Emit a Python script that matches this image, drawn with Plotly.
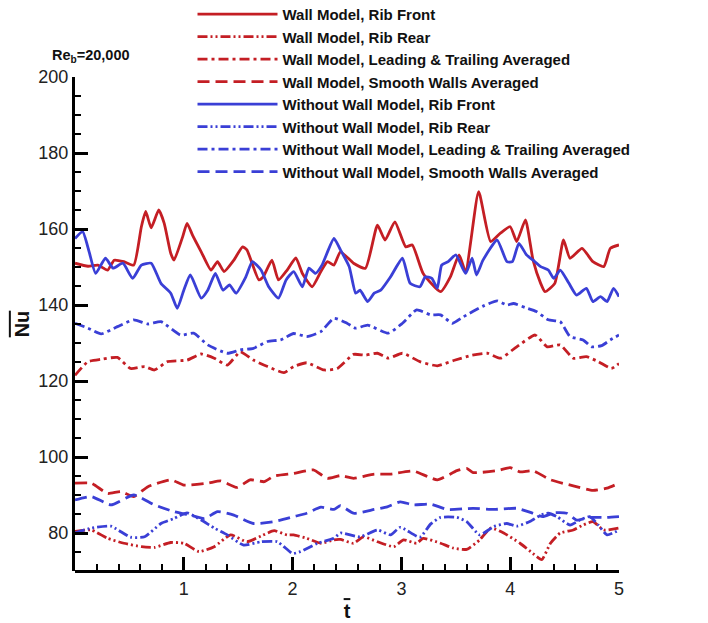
import plotly.graph_objects as go

# ---- data ----
wm_front_t = [0.00,0.12,0.21,0.30,0.36,0.45,0.54,0.61,0.65,0.70,0.77,0.82,0.88,0.91,0.99,1.03,1.08,1.16,1.25,1.31,1.37,1.46,1.54,1.58,1.69,1.73,1.81,1.87,1.95,2.03,2.09,2.18,2.26,2.32,2.38,2.44,2.56,2.67,2.78,2.85,2.94,3.04,3.10,3.20,3.36,3.45,3.53,3.59,3.71,3.82,3.91,4.00,4.06,4.14,4.21,4.28,4.32,4.41,4.49,4.55,4.66,4.76,4.86,4.92,5.00]
wm_front_v = [151.0,150.2,150.5,149.2,151.8,151.4,150.5,160.6,164.6,160.3,165.0,161.5,153.6,151.8,158.0,161.5,158.4,154.0,149.2,151.4,148.8,151.8,155.3,154.5,146.6,147.4,151.8,146.6,149.2,152.4,148.3,144.8,148.8,151.4,150.5,154.0,151.0,149.7,161.0,157.1,161.9,155.3,155.8,148.3,143.5,147.4,153.2,148.8,169.8,156.7,158.9,160.6,156.7,162.4,151.8,145.7,143.5,145.7,157.1,152.3,154.9,151.4,150.1,154.9,155.8]

wm_rear_t = [0.00,0.15,0.30,0.45,0.61,0.73,0.88,1.00,1.14,1.28,1.43,1.58,1.71,1.83,1.95,2.01,2.13,2.26,2.38,2.44,2.56,2.65,2.78,2.93,3.02,3.14,3.20,3.36,3.48,3.60,3.72,3.82,3.94,4.09,4.21,4.29,4.37,4.46,4.58,4.67,4.76,4.86,5.00]
wm_rear_v = [80.4,80.8,78.6,77.3,76.4,76.2,77.5,77.3,75.1,76.4,79.5,77.7,79.2,80.6,79.5,79.5,78.6,77.3,78.2,78.3,77.3,79.0,77.7,76.4,78.2,77.3,78.6,77.3,76.0,75.7,78.2,81.3,80.0,77.3,74.6,73.0,77.3,80.0,80.8,82.1,83.0,80.8,81.3]

wm_lt_t = [0.00,0.12,0.24,0.39,0.51,0.64,0.73,0.85,1.03,1.16,1.28,1.40,1.52,1.64,1.77,1.92,2.01,2.13,2.29,2.41,2.56,2.67,2.78,2.88,3.01,3.17,3.33,3.48,3.65,3.79,3.91,4.06,4.23,4.34,4.46,4.58,4.70,4.81,4.93,5.00]
wm_lt_v = [121.5,125.1,125.7,126.2,123.3,123.8,122.9,125.1,125.5,127.1,126.0,124.2,127.7,125.5,123.8,122.2,123.8,124.8,122.9,123.3,127.0,126.8,127.3,126.0,127.3,125.1,124.0,125.4,126.8,127.3,126.0,129.0,132.1,129.0,129.5,126.0,126.4,125.1,123.3,124.6]

wm_smooth_t = [0.00,0.15,0.30,0.42,0.54,0.67,0.88,1.00,1.22,1.34,1.49,1.61,1.74,1.83,2.01,2.19,2.32,2.44,2.56,2.75,2.90,3.11,3.33,3.51,3.60,3.66,3.88,4.00,4.09,4.21,4.37,4.58,4.76,4.89,5.00]
wm_smooth_v = [93.1,93.1,90.4,90.9,89.6,92.2,94.0,92.6,93.1,93.7,92.0,94.0,93.5,95.0,95.7,96.6,94.4,95.1,94.4,95.5,95.5,96.3,94.0,96.4,97.0,95.9,96.4,97.2,96.1,96.4,94.0,92.4,91.2,91.8,93.1]

wo_front_t = [0.00,0.07,0.13,0.19,0.28,0.35,0.44,0.53,0.61,0.70,0.79,0.88,0.94,1.00,1.06,1.16,1.22,1.29,1.36,1.42,1.48,1.57,1.63,1.71,1.78,1.87,1.94,2.01,2.09,2.15,2.21,2.27,2.38,2.44,2.52,2.58,2.62,2.69,2.75,2.81,2.90,3.01,3.08,3.17,3.22,3.28,3.33,3.37,3.43,3.50,3.59,3.65,3.69,3.75,3.88,3.97,4.02,4.08,4.15,4.21,4.28,4.35,4.40,4.46,4.54,4.61,4.70,4.76,4.83,4.89,4.95,5.00]
wo_front_v = [157.5,159.3,154.0,148.3,152.3,149.7,151.0,147.0,150.5,151.0,145.7,143.1,139.1,143.9,147.9,141.8,143.9,148.3,143.9,145.3,143.1,147.4,151.4,149.2,144.8,141.8,146.6,148.8,144.8,149.7,148.3,150.5,157.5,154.5,150.1,143.1,143.9,140.9,143.1,143.9,147.4,152.3,145.7,144.8,147.4,147.0,144.4,150.5,151.4,153.2,148.3,152.3,147.9,151.8,157.1,151.4,151.4,156.2,153.2,151.8,150.1,149.2,147.0,149.2,145.7,142.6,144.4,140.9,142.2,140.9,144.4,142.2]

wo_rear_t = [0.00,0.15,0.33,0.51,0.64,0.79,0.91,1.03,1.16,1.28,1.40,1.55,1.71,1.86,2.00,2.07,2.23,2.38,2.44,2.62,2.78,2.90,2.99,3.17,3.27,3.36,3.51,3.60,3.72,3.85,3.97,4.06,4.18,4.28,4.35,4.43,4.55,4.64,4.73,4.81,4.89,5.00]
wo_rear_v = [80.0,81.3,81.8,78.9,79.0,82.5,83.8,85.3,83.4,81.3,79.5,76.8,77.7,77.7,74.6,75.1,77.3,78.6,80.0,79.0,80.8,79.5,81.5,78.9,82.4,84.1,84.1,83.0,79.5,81.7,82.5,81.8,83.0,84.7,85.2,84.3,82.1,83.4,84.3,82.1,79.5,80.8]

wo_lt_t = [0.00,0.12,0.24,0.39,0.54,0.67,0.79,0.97,1.09,1.22,1.40,1.52,1.64,1.77,1.89,2.01,2.13,2.26,2.38,2.50,2.58,2.69,2.88,3.01,3.14,3.27,3.36,3.47,3.57,3.75,3.88,3.97,4.03,4.14,4.24,4.35,4.46,4.55,4.67,4.75,4.84,4.92,5.00]
wo_lt_v = [135.2,133.9,132.4,134.3,136.1,135.0,135.6,132.1,132.6,129.5,127.3,128.2,128.6,130.4,130.8,132.5,131.7,133.0,136.5,135.2,133.9,134.7,132.6,135.2,138.7,137.4,137.4,135.2,136.9,139.7,141.1,140.0,140.4,139.3,138.3,136.1,135.6,131.7,130.8,129.0,129.3,130.8,132.1]

wo_smooth_t = [0.00,0.15,0.33,0.54,0.73,0.91,1.06,1.19,1.31,1.46,1.64,1.83,2.01,2.13,2.26,2.38,2.44,2.56,2.75,2.87,2.99,3.11,3.27,3.42,3.66,3.85,4.06,4.21,4.30,4.40,4.52,4.61,4.73,4.89,5.00]
wo_smooth_v = [88.7,89.6,87.4,90.0,87.4,85.6,84.7,83.8,85.6,84.7,82.5,83.0,84.3,85.2,86.8,86.2,87.2,85.2,86.2,86.9,88.2,87.4,87.6,86.2,86.5,86.2,86.5,85.2,84.3,85.3,85.2,83.4,84.1,84.1,84.3]

RED = "#C41E24"
BLUE = "#3A3FD6"
DASH_RR = "10px,3px,2px,3px,2px,3px"
DASH_LT = "10px,4px,3px,4px"
DASH_SM = "12px,6px"

series = [
    ("Wall Model, Rib Front", wm_front_t, wm_front_v, RED, "solid"),
    ("Wall Model, Rib Rear", wm_rear_t, wm_rear_v, RED, DASH_RR),
    ("Wall Model, Leading &amp; Trailing Averaged", wm_lt_t, wm_lt_v, RED, DASH_LT),
    ("Wall Model, Smooth Walls Averaged", wm_smooth_t, wm_smooth_v, RED, DASH_SM),
    ("Without Wall Model, Rib Front", wo_front_t, wo_front_v, BLUE, "solid"),
    ("Without Wall Model, Rib Rear", wo_rear_t, wo_rear_v, BLUE, DASH_RR),
    ("Without Wall Model, Leading &amp; Trailing Averaged", wo_lt_t, wo_lt_v, BLUE, DASH_LT),
    ("Without Wall Model, Smooth Walls Averaged", wo_smooth_t, wo_smooth_v, BLUE, DASH_SM),
]

FONT = "Liberation Sans, Arial, sans-serif"

fig = go.Figure()
for name, t, v, col, dash in series:
    fig.add_trace(go.Scatter(
        x=t, y=v, mode="lines", name=name,
        line=dict(color=col, width=2.8, dash=dash, shape="spline", smoothing=0.5),
    ))

fig.update_layout(
    width=708, height=623,
    margin=dict(l=75, r=89, t=77, b=52, autoexpand=False),
    paper_bgcolor="white", plot_bgcolor="white",
    font=dict(family=FONT, size=18, color="#222"),
    showlegend=True,
    legend=dict(
        x=0.216, y=1.16, xanchor="left", yanchor="top",
        font=dict(family=FONT, size=15, color="#111", weight="bold"),
        bgcolor="rgba(0,0,0,0)", itemwidth=80,
        tracegroupgap=0,
    ),
    xaxis=dict(
        range=[0, 5], showgrid=False, zeroline=False, automargin=False,
        anchor="free", position=0, side="bottom", layer="above traces",
        showline=True, linecolor="black", linewidth=3,
        ticks="inside", ticklen=13, tickwidth=3, tickcolor="black",
        tickmode="linear", tick0=0, dtick=1, labelalias={"0": ""},
        minor=dict(ticks="inside", ticklen=6, tickwidth=1.5, tickcolor="black",
                   tickmode="linear", tick0=0, dtick=0.2),
        tickfont=dict(size=18, color="#222"),
        title=dict(text='<b><span style="text-decoration:overline">t</span></b>',
                   font=dict(size=20, color="#111"), standoff=6),
    ),
    yaxis=dict(
        range=[70, 200], showgrid=False, zeroline=False, automargin=False,
        showline=True, linecolor="black", linewidth=3,
        ticks="inside", ticklen=13, tickwidth=3, tickcolor="black",
        tickmode="linear", tick0=80, dtick=20,
        minor=dict(ticks="inside", ticklen=6, tickwidth=1.5, tickcolor="black",
                   tickmode="linear", tick0=70, dtick=5),
        tickfont=dict(size=18, color="#222"),
        title=dict(text='<b><span style="text-decoration:overline">Nu</span></b>',
                   font=dict(size=20, color="#111"), standoff=4),
    ),
    annotations=[dict(
        text="<b>Re<sub>b</sub>=20,000</b>", xref="paper", yref="paper",
        x=0.029, y=1.043, xanchor="center", yanchor="middle", showarrow=False,
        font=dict(family=FONT, size=14.5, color="#111"),
    )],
)

fig.write_html("out.html")
